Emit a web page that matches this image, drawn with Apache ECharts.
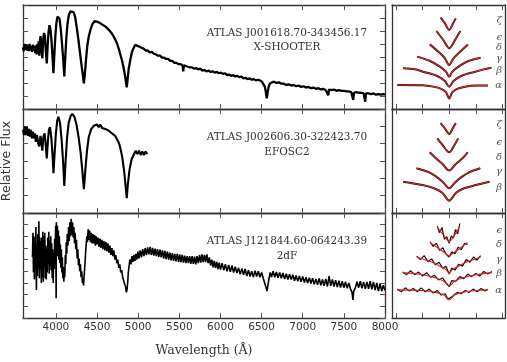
<!DOCTYPE html>
<html>
<head>
<meta charset="utf-8">
<script src="https://cdn.jsdelivr.net/npm/echarts@6/dist/echarts.min.js"></script>
<style>
html, body { margin: 0; padding: 0; background: #fff; }
#main { width: 507px; height: 362px; }
</style>
</head>
<body>
<div id="main"></div>
<script>
// tick labels
const waveTicks = [4000, 4500, 5000, 5500, 6000, 6500, 7000, 7500, 8000];
const fitTicks = [-2, -1, 0, 1, 2];
const targets = ['ATLAS J001618.70-343456.17', 'ATLAS J002606.30-322423.70', 'ATLAS J121844.60-064243.39'];
const instruments = ['X-SHOOTER', 'EFOSC2', '2dF'];

// spectra [wavelength, relative flux]
const xshooter = [[3600,4.75],[3610,4.45],[3620,5.0],[3630,4.55],[3640,4.95],[3650,4.5],[3660,4.9],[3670,4.45],[3680,5.0],[3690,4.5],[3700,4.85],[3710,4.4],[3720,4.95],[3730,4.5],[3740,4.85],[3750,4.3],[3758,4.9],[3766,4.2],[3774,5.0],[3782,4.3],[3790,5.2],[3798,4.1],[3806,5.3],[3814,5.6],[3822,4.9],[3835,3.9],[3846,5.4],[3856,5.85],[3866,5.6],[3876,4.6],[3889,3.5],[3900,4.9],[3910,5.9],[3922,6.45],[3934,6.1],[3946,5.3],[3958,4.1],[3970,2.75],[3982,4.3],[3994,5.7],[4006,6.6],[4018,7.1],[4030,7.25],[4044,6.95],[4058,6.2],[4072,5.2],[4088,3.9],[4102,2.5],[4114,4.0],[4126,5.4],[4140,6.5],[4156,7.2],[4175,7.5],[4195,7.65],[4215,7.45],[4235,7.05],[4255,6.2],[4275,5.25],[4295,4.2],[4315,3.2],[4330,2.5],[4340,1.97],[4352,2.7],[4366,3.8],[4382,4.9],[4400,5.6],[4420,6.1],[4445,6.55],[4470,6.75],[4490,6.85],[4510,6.7],[4530,6.75],[4550,6.55],[4575,6.45],[4600,6.35],[4625,6.2],[4650,6.05],[4675,5.85],[4700,5.6],[4725,5.3],[4745,5.0],[4765,4.6],[4785,4.15],[4805,3.7],[4825,3.1],[4842,2.5],[4855,1.9],[4861,1.67],[4870,2.2],[4885,3.1],[4905,3.8],[4925,4.4],[4945,4.7],[4965,4.95],[4990,4.85],[5015,4.8],[5040,4.7],[5065,4.65],[5090,4.5],[5115,4.5],[5140,4.35],[5165,4.4],[5190,4.25],[5215,4.2],[5240,4.1],[5265,4.1],[5290,3.95],[5315,3.95],[5340,3.85],[5365,3.85],[5390,3.7],[5415,3.7],[5440,3.55],[5465,3.55],[5490,3.45],[5515,3.45],[5540,3.35],[5548,2.9],[5556,3.35],[5580,3.3],[5605,3.25],[5630,3.2],[5655,3.2],[5680,3.1],[5705,3.15],[5730,3.05],[5755,3.1],[5780,2.95],[5805,3.0],[5830,2.9],[5855,2.95],[5880,2.85],[5905,2.9],[5930,2.8],[5955,2.85],[5980,2.75],[6005,2.8],[6030,2.7],[6055,2.75],[6080,2.6],[6105,2.65],[6130,2.55],[6155,2.6],[6180,2.5],[6205,2.55],[6230,2.45],[6255,2.5],[6280,2.35],[6305,2.4],[6330,2.3],[6355,2.35],[6380,2.25],[6405,2.3],[6430,2.2],[6455,2.25],[6480,2.2],[6505,2.1],[6525,2.0],[6540,1.7],[6552,1.3],[6563,0.82],[6574,1.3],[6586,1.7],[6600,1.95],[6625,2.05],[6650,2.1],[6680,2.0],[6710,2.05],[6740,1.95],[6770,1.95],[6800,1.85],[6830,1.9],[6860,1.8],[6890,1.85],[6920,1.75],[6950,1.8],[6980,1.7],[7010,1.75],[7040,1.65],[7070,1.7],[7100,1.6],[7130,1.65],[7160,1.55],[7190,1.6],[7220,1.5],[7250,1.55],[7280,1.45],[7300,1.5],[7310,1.05],[7320,1.5],[7350,1.45],[7380,1.5],[7410,1.4],[7440,1.45],[7470,1.4],[7500,1.4],[7530,1.35],[7560,1.35],[7590,1.3],[7605,1.25],[7614,0.7],[7623,1.25],[7650,1.3],[7680,1.25],[7710,1.25],[7740,1.2],[7752,1.2],[7760,0.56],[7768,1.2],[7800,1.2],[7830,1.15],[7860,1.2],[7890,1.1],[7920,1.15],[7950,1.1],[7980,1.15],[8000,1.1]];

const efosc2 = [[3600,4.8],[3612,4.5],[3624,5.0],[3636,4.5],[3648,4.95],[3660,4.45],[3672,4.85],[3684,4.4],[3696,4.8],[3708,4.3],[3720,4.7],[3732,4.3],[3744,4.6],[3756,4.1],[3770,4.5],[3785,4.0],[3798,3.85],[3812,4.45],[3822,4.2],[3835,3.6],[3848,4.4],[3862,4.6],[3875,4.0],[3889,3.15],[3902,4.1],[3915,4.8],[3928,4.95],[3945,4.3],[3958,3.4],[3970,2.3],[3985,3.5],[4000,4.6],[4015,5.3],[4030,5.55],[4050,5.2],[4070,4.2],[4088,2.9],[4102,1.56],[4118,3.0],[4135,4.3],[4155,5.2],[4180,5.6],[4200,5.72],[4225,5.55],[4250,5.1],[4275,4.4],[4300,3.5],[4320,2.5],[4340,1.38],[4358,2.5],[4378,3.6],[4400,4.4],[4430,4.85],[4465,5.05],[4500,5.1],[4520,4.95],[4540,5.1],[4560,4.9],[4580,5.0],[4600,4.85],[4620,4.9],[4640,4.75],[4660,4.75],[4680,4.6],[4700,4.55],[4720,4.45],[4740,4.35],[4760,4.1],[4775,3.9],[4790,3.6],[4805,3.25],[4830,2.4],[4850,1.4],[4861,0.85],[4875,1.7],[4895,2.5],[4920,3.1],[4950,3.4],[4970,3.6],[4990,3.4],[5010,3.6],[5030,3.35],[5050,3.55],[5070,3.35],[5090,3.55],[5110,3.4]];

const twodf = [[3715,5.2],[3721,7.3],[3727,3.9],[3733,7.0],[3739,3.3],[3745,6.6],[3751,4.6],[3757,7.8],[3763,2.4],[3769,6.4],[3775,3.6],[3781,7.2],[3787,4.2],[3793,8.3],[3799,3.4],[3805,6.9],[3811,4.1],[3817,6.6],[3823,3.0],[3829,6.9],[3835,3.5],[3841,7.4],[3847,3.1],[3853,7.0],[3859,4.4],[3865,7.3],[3871,3.4],[3877,6.2],[3883,3.3],[3889,5.9],[3895,3.9],[3901,6.9],[3907,4.6],[3913,7.4],[3919,3.8],[3925,6.6],[3931,4.5],[3937,7.0],[3943,4.1],[3949,6.4],[3955,3.4],[3961,5.9],[3967,3.0],[3973,5.6],[3979,4.2],[3985,6.8],[3991,5.2],[3997,7.9],[4003,1.7],[4006,8.2],[4012,5.6],[4018,7.9],[4024,5.3],[4030,7.5],[4036,5.0],[4042,7.0],[4048,4.7],[4054,6.3],[4060,4.3],[4066,5.9],[4072,3.9],[4078,5.2],[4084,3.4],[4090,4.4],[4096,3.1],[4102,4.0],[4108,3.5],[4114,5.4],[4120,4.6],[4126,6.5],[4132,5.5],[4138,7.2],[4146,6.2],[4154,7.8],[4162,6.6],[4170,8.2],[4178,7.0],[4186,8.5],[4194,7.1],[4202,8.2],[4210,6.9],[4218,7.8],[4226,6.4],[4234,7.3],[4242,5.9],[4250,6.7],[4258,5.1],[4266,5.9],[4274,4.5],[4282,5.1],[4290,4.0],[4298,4.6],[4306,3.5],[4314,4.0],[4322,3.0],[4330,3.4],[4336,2.8],[4344,3.7],[4352,4.5],[4360,5.5],[4368,6.3],[4376,7.0],[4384,6.5],[4392,7.6],[4400,6.7],[4410,7.5],[4420,6.5],[4430,7.3],[4440,6.4],[4450,7.2],[4460,6.4],[4470,7.1],[4480,6.2],[4490,7.0],[4500,6.3],[4512,6.9],[4524,6.1],[4536,6.8],[4548,6.0],[4560,6.7],[4572,5.9],[4584,6.6],[4596,5.8],[4608,6.5],[4620,5.7],[4632,6.4],[4644,5.6],[4656,6.2],[4668,5.4],[4680,6.0],[4692,5.3],[4704,5.8],[4716,5.0],[4728,5.4],[4740,4.7],[4752,5.0],[4764,4.3],[4776,4.6],[4788,3.9],[4800,4.1],[4812,3.5],[4824,3.5],[4836,2.9],[4846,2.7],[4856,2.2],[4864,2.4],[4872,3.0],[4880,3.9],[4890,4.5],[4900,5.0],[4912,4.6],[4924,5.3],[4936,4.8],[4948,5.4],[4960,4.9],[4972,5.5],[4984,5.0],[4996,5.7],[5010,5.1],[5025,5.8],[5040,5.2],[5055,5.9],[5070,5.3],[5085,6.0],[5100,5.4],[5115,6.05],[5130,5.45],[5145,6.1],[5160,5.4],[5175,6.0],[5190,5.35],[5205,5.95],[5220,5.3],[5235,5.9],[5250,5.25],[5265,5.85],[5280,5.2],[5295,5.8],[5310,5.1],[5325,5.75],[5340,5.05],[5355,5.7],[5370,5.0],[5385,5.6],[5400,4.95],[5415,5.55],[5430,4.9],[5445,5.5],[5460,4.85],[5475,5.5],[5490,4.8],[5505,5.45],[5520,4.8],[5535,5.4],[5550,4.75],[5565,5.35],[5580,4.7],[5595,5.3],[5610,4.7],[5625,5.3],[5640,4.65],[5655,5.3],[5670,4.65],[5685,5.25],[5700,4.6],[5715,5.3],[5730,4.7],[5745,5.4],[5760,4.75],[5775,5.45],[5790,4.8],[5805,5.4],[5820,4.8],[5835,5.45],[5850,4.7],[5865,5.2],[5880,4.5],[5895,5.0],[5910,4.35],[5925,4.9],[5940,4.3],[5955,4.8],[5970,4.2],[5985,4.75],[6000,4.15],[6020,4.7],[6040,4.1],[6060,4.6],[6080,4.0],[6100,4.55],[6120,3.95],[6140,4.5],[6160,3.9],[6180,4.4],[6200,3.85],[6220,4.3],[6240,3.75],[6260,4.25],[6280,3.7],[6300,4.2],[6320,3.6],[6340,4.1],[6360,3.55],[6380,4.0],[6400,3.5],[6420,4.05],[6440,3.55],[6460,4.0],[6480,3.5],[6500,3.9],[6520,3.4],[6540,3.3],[6555,2.6],[6565,2.3],[6575,2.7],[6590,3.4],[6605,3.9],[6620,3.5],[6640,4.0],[6660,3.5],[6680,3.95],[6700,3.45],[6720,3.9],[6740,3.4],[6760,3.85],[6780,3.35],[6800,3.8],[6820,3.3],[6840,3.75],[6860,3.3],[6880,3.7],[6900,3.2],[6920,3.65],[6940,3.15],[6960,3.6],[6980,3.1],[7000,3.55],[7020,3.05],[7040,3.5],[7060,3.0],[7080,3.45],[7100,2.95],[7120,3.4],[7140,2.9],[7160,3.35],[7180,2.85],[7200,3.4],[7220,2.8],[7240,3.3],[7260,2.75],[7280,3.35],[7300,2.7],[7320,3.6],[7340,2.75],[7360,3.3],[7380,2.7],[7400,3.25],[7420,2.65],[7440,3.2],[7460,2.6],[7480,3.15],[7500,2.6],[7520,3.1],[7540,2.55],[7560,3.0],[7580,2.5],[7600,2.2],[7610,1.55],[7620,2.3],[7640,2.6],[7660,3.1],[7680,2.6],[7700,3.15],[7720,2.55],[7740,3.1],[7760,2.5],[7780,3.1],[7800,2.5],[7820,3.15],[7840,2.45],[7860,3.1],[7880,2.4],[7900,3.0],[7920,2.3],[7940,2.95],[7960,2.3],[7980,2.8],[8000,2.35]];

// Balmer line fits [offset from line centre, offset flux]
const xsZeta = [[-0.32,7.03],[-0.16,6.59],[0,6.08],[0.15,6.59],[0.25,6.97]];
const xsEps = [[-0.48,6.0],[-0.22,5.31],[0,4.67],[0.22,5.31],[0.42,6.0]];
const xsDelta = [[-0.73,4.97],[-0.41,4.41],[-0.16,3.9],[0,3.38],[0.16,3.9],[0.41,4.41],[0.71,4.97]];
const xsGamma = [[-1.2,4.03],[-0.72,3.69],[-0.35,3.26],[-0.12,2.87],[0,2.49],[0.12,2.87],[0.35,3.26],[0.72,3.69],[1.18,3.95]];
const xsBeta = [[-1.73,3.13],[-1.3,3.05],[-0.98,2.87],[-0.47,2.56],[-0.16,2.15],[0,1.72],[0.16,2.15],[0.47,2.56],[0.98,2.87],[1.3,3.05],[1.59,3.18]];
const xsAlpha = [[-1.95,1.85],[-1.0,1.83],[-0.6,1.72],[-0.3,1.55],[-0.12,1.3],[0,0.8],[0.12,1.3],[0.3,1.55],[0.6,1.72],[1.0,1.8],[1.46,1.8]];

const efZeta = [[-0.32,6.92],[-0.16,6.5],[0,6.08],[0.13,6.5],[0.25,6.92]];
const efEps = [[-0.45,5.74],[-0.25,5.23],[0,4.67],[0.2,5.23],[0.34,5.74]];
const efDelta = [[-0.73,4.67],[-0.5,4.21],[-0.25,3.77],[0,3.26],[0.25,3.77],[0.5,4.21],[0.7,4.67]];
const efGamma = [[-1.23,3.44],[-0.75,3.13],[-0.5,2.82],[-0.25,2.41],[0,1.9],[0.25,2.41],[0.5,2.82],[0.75,3.13],[1.17,3.44]];
const efBeta = [[-1.73,2.41],[-1.0,2.15],[-0.5,1.85],[-0.25,1.54],[0,0.95],[0.25,1.54],[0.5,1.85],[1.0,2.15],[1.52,2.41]];

const dfEps = [[-0.45,6.9],[-0.2,6.3],[0,5.82],[0.2,6.3],[0.4,7.0]];
const dfDelta = [[-0.72,5.75],[-0.4,5.3],[-0.15,4.95],[0,4.73],[0.15,4.95],[0.4,5.3],[0.69,5.75]];
const dfGamma = [[-1.22,4.63],[-0.7,4.3],[-0.35,3.95],[-0.12,3.7],[0,3.41],[0.12,3.7],[0.35,3.95],[0.7,4.3],[1.18,4.63]];
const dfBeta = [[-1.75,3.46],[-1.0,3.3],[-0.5,3.05],[-0.2,2.8],[0,2.44],[0.2,2.8],[0.5,3.05],[1.0,3.3],[1.61,3.46]];
const dfAlpha = [[-1.95,2.14],[-1.0,2.1],[-0.5,1.95],[-0.2,1.75],[0,1.37],[0.2,1.75],[0.5,1.95],[1.0,2.1],[1.46,2.14]];

// 2dF observed profiles (noisy)
const dfEpsObs = [[-0.45,7.0],[-0.36,6.5],[-0.27,6.9],[-0.18,6.0],[-0.09,6.2],[0,5.7],[0.08,6.25],[0.16,6.1],[0.24,6.75],[0.32,6.4],[0.4,7.2]];
const dfDeltaObs = [[-0.72,5.8],[-0.6,5.45],[-0.48,5.7],[-0.36,5.15],[-0.24,5.35],[-0.12,4.85],[0,4.65],[0.1,5.05],[0.22,4.9],[0.34,5.4],[0.46,5.2],[0.58,5.7],[0.69,5.6]];
const dfGammaObs = [[-1.22,4.7],[-1.08,4.45],[-0.94,4.75],[-0.8,4.3],[-0.66,4.5],[-0.52,4.05],[-0.38,4.25],[-0.25,3.8],[-0.12,3.95],[0,3.35],[0.1,3.8],[0.22,3.65],[0.35,4.1],[0.5,3.95],[0.64,4.45],[0.78,4.25],[0.92,4.65],[1.05,4.4],[1.18,4.75]];
const dfBetaObs = [[-1.75,3.5],[-1.6,3.3],[-1.45,3.6],[-1.3,3.3],[-1.15,3.5],[-1.0,3.2],[-0.85,3.45],[-0.7,3.1],[-0.55,3.25],[-0.4,2.9],[-0.25,3.05],[-0.12,2.7],[0,2.4],[0.1,2.85],[0.25,2.8],[0.4,3.15],[0.55,3.0],[0.7,3.35],[0.85,3.15],[1.0,3.4],[1.15,3.2],[1.3,3.55],[1.45,3.35],[1.61,3.55]];
const dfAlphaObs = [[-1.95,2.2],[-1.8,2.0],[-1.65,2.3],[-1.5,2.05],[-1.35,2.25],[-1.2,2.0],[-1.05,2.3],[-0.9,2.0],[-0.75,2.2],[-0.6,1.9],[-0.45,2.1],[-0.3,1.75],[-0.15,1.85],[-0.05,1.45],[0,1.3],[0.05,1.55],[0.15,1.7],[0.3,1.95],[0.45,1.85],[0.6,2.1],[0.75,1.95],[0.9,2.2],[1.05,2.0],[1.2,2.25],[1.35,2.05],[1.46,2.2]];

// line labels and their heights
const xsLabels = ['ζ', 'ϵ', 'δ', 'γ', 'β', 'α'];
const xsLabelY = [6.85, 5.49, 4.74, 3.9, 3.0, 1.85];
const efLabels = ['ζ', 'ϵ', 'δ', 'γ', 'β'];
const efLabelY = [6.79, 5.44, 4.28, 3.2, 1.98];
const dfLabels = ['ϵ', 'δ', 'γ', 'β', 'α'];
const dfLabelY = [6.64, 5.57, 4.48, 3.41, 2.08];

var chart = echarts.init(document.getElementById('main'));

var frame = { show: true, onZero: false, lineStyle: { color: '#333', width: 1.3 } };
var tick = { inside: true, length: 5, lineStyle: { color: '#555', width: 1 } };
var yMax = [8, 6, 9];
var tops = [5, 109, 213];
var heights = [104, 104, 105];

var grids = [];
var xAxes = [];
var yAxes = [];
for (var g = 0; g < 6; g++) {
  var right = g >= 3;
  var row = g % 3;
  // fixed boxes, no auto shrinking for axis names
  grids.push({ left: right ? 392 : 23, top: tops[row], width: right ? 113 : 362, height: heights[row],
    containLabel: false, outerBoundsMode: 'none' });
  ['bottom', 'top'].forEach(function (pos) {
    var labels = !right && row === 2 && pos === 'bottom';
    var ax = {
      type: 'value', gridIndex: g, position: pos,
      min: right ? -2.15 : 3600, max: right ? 2.1 : 8000,
      axisLine: frame,
      axisTick: Object.assign({ customValues: right ? fitTicks : waveTicks }, tick),
      axisLabel: labels ? {
        customValues: waveTicks, color: '#333', fontFamily: 'DejaVu Sans', fontSize: 10.5, margin: 4,
        formatter: function (v) { return String(v); }
      } : { show: false },
      splitLine: { show: false }
    };
    if (labels) {
      ax.name = 'Wavelength (Å)';
      ax.nameLocation = 'middle';
      ax.nameGap = 26;
      ax.nameTextStyle = { fontFamily: 'DejaVu Serif', fontSize: 12.5, color: '#333' };
    }
    xAxes.push(ax);
  });
  ['left', 'right'].forEach(function (pos) {
    var ay = {
      type: 'value', gridIndex: g, position: pos,
      min: 0, max: right ? 8 : yMax[row], interval: 1,
      axisLine: frame,
      axisTick: right ? { show: false } : tick,
      axisLabel: { show: false },
      splitLine: { show: false }
    };
    if (!right && row === 1 && pos === 'left') {
      ay.name = 'Relative Flux';
      ay.nameLocation = 'middle';
      ay.nameGap = 10;
      ay.nameTextStyle = { fontFamily: 'DejaVu Sans', fontSize: 12.5, color: '#333' };
    }
    if (right && pos === 'right') {
      var names = [xsLabels, efLabels, dfLabels][row];
      var levels = [xsLabelY, efLabelY, dfLabelY][row];
      ay.axisLabel = {
        inside: true, margin: 3, customValues: levels,
        color: '#555', fontFamily: 'DejaVu Serif', fontStyle: 'italic', fontSize: 10,
        formatter: (function (names, levels) {
          return function (v) {
            for (var i = 0; i < levels.length; i++) {
              if (Math.abs(levels[i] - v) < 1e-6) return names[i];
            }
            return '';
          };
        })(names, levels)
      };
    }
    yAxes.push(ay);
  });
}

function spec(g, data, w) {
  return { type: 'line', xAxisIndex: 2 * g, yAxisIndex: 2 * g, data: data, symbol: 'none',
    lineStyle: { color: '#000', width: w }, silent: true };
}

// black data underneath, red model on top
function fit(g, obs, model, obsWidth) {
  return [
    { type: 'line', xAxisIndex: 2 * g, yAxisIndex: 2 * g, data: obs, symbol: 'none', smooth: obs === model ? 0.3 : false,
      lineStyle: { color: '#111', width: obsWidth }, silent: true, z: 2 },
    { type: 'line', xAxisIndex: 2 * g, yAxisIndex: 2 * g, data: model, symbol: 'none', smooth: 0.3,
      lineStyle: { color: '#e3201b', width: 1.1 }, silent: true, z: 3 }
  ];
}

var series = [spec(0, xshooter, 2.3), spec(1, efosc2, 2.1), spec(2, twodf, 1.6)];
[xsZeta, xsEps, xsDelta, xsGamma, xsBeta, xsAlpha].forEach(function (d) { series = series.concat(fit(3, d, d, 2.0)); });
[efZeta, efEps, efDelta, efGamma, efBeta].forEach(function (d) { series = series.concat(fit(4, d, d, 2.0)); });
series = series.concat(
  fit(5, dfEpsObs, dfEps, 1.2), fit(5, dfDeltaObs, dfDelta, 1.2), fit(5, dfGammaObs, dfGamma, 1.2),
  fit(5, dfBetaObs, dfBeta, 1.2), fit(5, dfAlphaObs, dfAlpha, 1.2)
);

var textY = [[33, 47], [137, 152], [241, 256]];
var graphics = [];
for (var i = 0; i < 3; i++) {
  [targets[i], instruments[i]].forEach(function (t, k) {
    graphics.push({ type: 'text', x: 287, y: textY[i][k], silent: true,
      style: { text: t, textAlign: 'center', textVerticalAlign: 'middle', fontFamily: 'DejaVu Serif', fontSize: 10.5, fill: '#333' } });
  });
}

var option = {
  animation: false,
  backgroundColor: '#fff',
  grid: grids,
  xAxis: xAxes,
  yAxis: yAxes,
  series: series,
  graphic: graphics
};
chart.setOption(option);
</script>
</body>
</html>
